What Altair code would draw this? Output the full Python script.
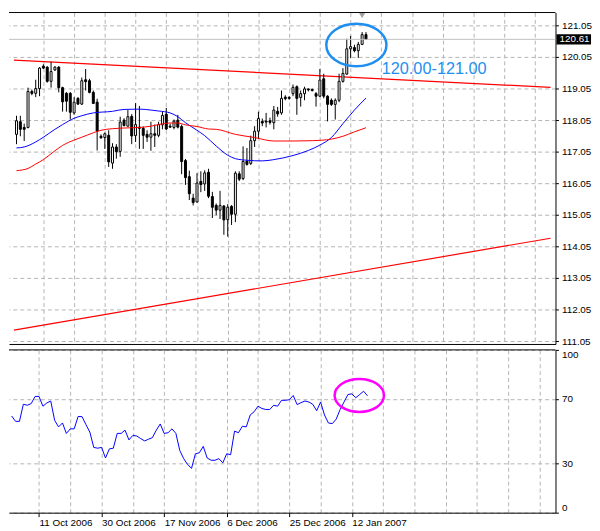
import altair as alt
import pandas as pd

# ---------------- data ----------------
bar_index = list(range(92))
opens = [117.60, 118.00, 117.82, 117.82, 118.96, 118.90, 119.05, 119.76, 119.73, 119.28,
         119.64, 119.73, 119.08, 118.90, 118.90, 118.28, 118.74, 118.56, 119.33, 119.30,
         118.93, 118.62, 117.54, 117.50, 117.57, 116.69, 117.20, 117.06, 118.05, 117.86,
         118.17, 117.56, 117.83, 117.79, 117.60, 117.51, 117.62, 117.57, 117.90, 118.24,
         117.86, 117.82, 118.05, 117.85, 116.77, 116.26, 115.58, 115.46, 116.11, 116.03,
         116.40, 115.63, 115.35, 115.20, 115.33, 114.90, 115.32, 115.07, 116.35, 116.20,
         116.75, 116.68, 117.40, 117.70, 118.01, 118.02, 118.03, 117.97, 118.33, 118.28,
         118.78, 118.77, 118.89, 119.11, 118.77, 118.89, 119.04, 119.02, 118.89, 118.81,
         119.36, 118.81, 118.68, 118.55, 118.68, 119.28, 119.51, 120.31, 120.35, 120.25,
         120.45, 120.76]
highs = [118.19, 118.19, 117.94, 119.08, 119.02, 119.33, 119.73, 119.82, 119.76, 119.90,
         119.76, 119.76, 119.11, 118.94, 118.94, 118.78, 118.78, 119.40, 119.67, 119.36,
         118.99, 118.73, 117.60, 117.66, 117.73, 117.32, 117.29, 118.16, 118.11, 118.37,
         118.24, 118.59, 118.50, 117.85, 117.73, 118.00, 117.91, 118.00, 118.31, 118.44,
         117.94, 118.07, 118.22, 117.91, 116.82, 116.45, 115.72, 116.37, 116.43, 116.46,
         116.51, 115.78, 115.41, 115.81, 115.36, 115.39, 115.36, 116.43, 116.43, 117.22,
         117.17, 117.56, 117.86, 118.32, 118.10, 118.28, 118.13, 118.50, 118.47, 118.99,
         118.84, 118.81, 119.18, 119.15, 118.99, 119.11, 119.05, 119.05, 118.94, 119.67,
         119.52, 118.84, 118.74, 118.74, 119.52, 119.70, 120.63, 120.72, 120.44, 120.53,
         120.84, 120.84]
lows = [117.29, 117.54, 117.39, 117.79, 118.84, 118.78, 118.81, 119.67, 119.24, 119.08,
        119.61, 118.93, 118.32, 118.32, 118.07, 118.22, 118.53, 118.53, 118.99, 118.90,
        118.56, 117.09, 117.46, 117.14, 116.57, 116.51, 116.83, 116.89, 117.85, 117.85,
        117.29, 117.36, 117.14, 117.14, 117.36, 117.08, 117.20, 117.51, 117.76, 117.74,
        117.80, 117.76, 117.79, 116.34, 116.00, 115.52, 115.35, 115.44, 115.77, 115.81,
        115.58, 114.95, 115.04, 114.92, 114.42, 114.36, 114.73, 114.82, 116.12, 116.15,
        116.61, 116.63, 117.20, 117.45, 117.86, 117.82, 117.91, 117.76, 118.16, 118.22,
        118.68, 118.70, 118.81, 118.22, 118.48, 118.68, 118.96, 118.96, 118.48, 118.78,
        118.74, 118.01, 118.50, 118.07, 118.62, 119.24, 119.49, 120.02, 120.20, 120.02,
        120.43, 120.59]
closes = [118.03, 117.76, 117.76, 118.96, 118.90, 119.05, 119.70, 119.70, 119.28, 119.59,
          119.73, 119.08, 118.63, 118.65, 118.30, 118.62, 118.56, 119.30, 119.27, 118.93,
          118.58, 117.70, 117.49, 117.62, 116.73, 117.20, 117.05, 117.99, 117.88, 118.16,
          117.55, 117.91, 117.79, 117.57, 117.51, 117.62, 117.57, 117.91, 118.20, 117.77,
          117.83, 118.02, 117.83, 116.74, 116.23, 115.72, 115.44, 116.06, 116.01, 116.38,
          115.64, 115.29, 115.20, 115.35, 114.89, 115.29, 115.07, 116.37, 116.18, 116.74,
          116.65, 117.40, 117.70, 118.10, 117.96, 117.99, 117.98, 118.37, 118.25, 118.74,
          118.73, 118.74, 119.09, 118.74, 118.89, 119.04, 119.01, 118.99, 118.81, 119.32,
          118.81, 118.55, 118.55, 118.68, 119.28, 119.53, 120.31, 120.38, 120.25, 120.45,
          120.76, 120.61]

ma_fast_bars = [0, 2, 5, 7, 10, 12, 15, 17, 20, 25, 28, 32, 35, 37, 40, 42, 44, 47, 49, 52,
                55, 57, 60, 64, 67, 72, 76, 79, 82, 85, 88, 91]
ma_fast_vals = [117.17, 117.20, 117.36, 117.51, 117.76, 117.91, 118.11, 118.19, 118.28, 118.33,
                118.39, 118.40, 118.37, 118.34, 118.28, 118.16, 117.97, 117.73, 117.56, 117.23,
                116.94, 116.83, 116.78, 116.76, 116.80, 116.93, 117.09, 117.26, 117.50, 117.94,
                118.37, 118.75]
ma_slow_bars = [0, 3, 5, 7, 10, 12, 15, 17, 20, 22, 25, 30, 32, 35, 37, 40, 42, 44, 47, 50,
                52, 57, 62, 67, 72, 77, 82, 85, 88, 91]
ma_slow_vals = [116.45, 116.52, 116.66, 116.80, 117.08, 117.25, 117.42, 117.51, 117.65, 117.73,
                117.78, 117.81, 117.82, 117.86, 117.91, 117.96, 117.96, 117.90, 117.85, 117.77,
                117.76, 117.60, 117.50, 117.39, 117.39, 117.40, 117.45, 117.54, 117.68, 117.81]

rsi_vals = [59.4, 56.1, 56.1, 66.6, 66.0, 67.0, 71.4, 71.4, 65.4, 67.4,
            68.6, 56.7, 52.7, 55.1, 48.7, 51.5, 51.5, 59.1, 59.0, 54.1,
            49.5, 40.1, 39.6, 40.1, 33.6, 39.2, 39.6, 48.7, 48.7, 50.7,
            44.7, 47.5, 47.1, 45.5, 44.1, 45.1, 46.1, 50.7, 54.5, 48.7,
            49.1, 51.5, 48.7, 38.2, 33.2, 29.6, 27.2, 36.2, 36.8, 40.7,
            33.6, 32.2, 32.2, 33.2, 30.6, 36.2, 35.6, 50.1, 49.1, 53.1,
            52.7, 60.0, 62.0, 65.4, 64.0, 63.4, 63.4, 66.0, 65.4, 69.0,
            69.0, 69.4, 72.0, 66.4, 67.6, 68.6, 68.0, 66.6, 62.6, 68.0,
            60.0, 55.1, 54.7, 57.5, 63.4, 68.0, 72.6, 73.0, 70.6, 72.6,
            74.6, 71.8]

x_domain = [-0.675, 139.07]
trend_upper_prices = [119.95, 119.09]
trend_lower_prices = [111.40, 114.31]
price_domain = [110.96, 121.46]
price_ticks = [111.05, 112.05, 113.05, 114.05, 115.05, 116.05, 117.05, 118.05, 119.05, 120.05, 121.05]
rsi_ticks = [0, 30, 70, 100]
grid_bars = list(range(7, 140, 8))
tick_bars = [7, 23, 39, 55, 71, 87]
tick_labels = ["11 Oct 2006", "30 Oct 2006", "17 Nov 2006", "6 Dec 2006", "25 Dec 2006", "12 Jan 2007"]
last_price = 120.61
zone_text = "120.00-121.00"
zone_center = (88.5, 120.43)
zone_text_pos = (95.1, 119.67)
rsi_mark_center = (88.9, 72.0)

# ---------------- styling ----------------
W, H1, H2 = 554, 336, 165
GRID = "#b4b4b4"
FONT = "Liberation Sans"
FS = 10
BLUE_NOTE = "#1e8ff0"

candles = pd.DataFrame({"i": bar_index, "open": opens, "high": highs,
                        "low": lows, "close": closes})
candles["dir"] = ["up" if c >= o else "down" for o, c in zip(opens, closes)]

xs = alt.Scale(domain=x_domain, nice=False, zero=False)
ys = alt.Scale(domain=price_domain, nice=False, zero=False)
rs = alt.Scale(domain=[0, 100], nice=False, zero=False)

x_axis_main = alt.Axis(values=grid_bars, labels=False, ticks=False, grid=True, gridColor=GRID,
                       gridDash=[4, 3], domain=True, domainColor="black", title=None, orient="bottom")
y_axis_main = alt.Axis(values=price_ticks, format=".2f", orient="right", grid=True, gridColor=GRID,
                       gridDash=[4, 3], domainColor="black", tickColor="black", tickSize=3,
                       labelPadding=3, title=None, labelOverlap=False)


def X(field="i"):
    return alt.X(f"{field}:Q", scale=xs, axis=x_axis_main)


def Y(field):
    return alt.Y(f"{field}:Q", scale=ys, axis=y_axis_main)


one = pd.DataFrame({"a": [0]})

trend_df = pd.DataFrame({"i": x_domain + x_domain,
                         "p": trend_upper_prices + trend_lower_prices,
                         "line": ["upper", "upper", "lower", "lower"]})
trend = alt.Chart(trend_df).mark_line(color="#ff0000", strokeWidth=1.2).encode(
    x=X(), y=Y("p"), detail="line:N")

wicks = alt.Chart(candles).mark_rule(color="black", strokeWidth=1).encode(
    x=X(), y=Y("low"), y2="high")
bodies = alt.Chart(candles).mark_bar(size=2, stroke="black", strokeWidth=1).encode(
    x=X(), y=Y("open"), y2="close",
    fill=alt.Fill("dir:N", scale=alt.Scale(domain=["up", "down"], range=["white", "black"]), legend=None))

fast_df = pd.DataFrame({"i": ma_fast_bars, "v": ma_fast_vals})
slow_df = pd.DataFrame({"i": ma_slow_bars, "v": ma_slow_vals})
ma_fast = alt.Chart(fast_df).mark_line(color="#0000ff", strokeWidth=1, interpolate="monotone").encode(
    x=X(), y=Y("v"))
ma_slow = alt.Chart(slow_df).mark_line(color="#ff0000", strokeWidth=1, interpolate="monotone").encode(
    x=X(), y=Y("v"))

bid_line = alt.Chart(one).mark_rule(color="#c0c0c0", strokeWidth=1).encode(
    y=alt.Y(datum=last_price, scale=ys, axis=y_axis_main), x=alt.value(0), x2=alt.value(W))

box = alt.Chart(one).mark_rect(color="black").encode(
    x=alt.value(W + 1), x2=alt.value(W + 36),
    y=alt.Y(datum=last_price + 0.16, scale=ys, axis=y_axis_main), y2=alt.datum(last_price - 0.16))
box_text = alt.Chart(pd.DataFrame({"t": [f"{last_price:.2f}"]})).mark_text(
    color="white", align="left", baseline="middle", font=FONT, fontSize=FS).encode(
    x=alt.value(W + 4), y=alt.Y(datum=last_price, scale=ys, axis=y_axis_main), text="t:N")

ellipse_path = "M-1,0A1,0.707,0,1,1,1,0A1,0.707,0,1,1,-1,0Z"
zone_df = pd.DataFrame({"i": [zone_center[0]], "p": [zone_center[1]]})
zone = alt.Chart(zone_df).mark_point(shape=ellipse_path, size=3721, filled=False,
                                     color=BLUE_NOTE, strokeWidth=2.5, opacity=1).encode(
    x=X(), y=Y("p"))
zone_lbl_df = pd.DataFrame({"i": [zone_text_pos[0]], "p": [zone_text_pos[1]], "t": [zone_text]})
zone_lbl = alt.Chart(zone_lbl_df).mark_text(align="left", baseline="middle", font=FONT,
                                            fontSize=16.5, color=BLUE_NOTE).encode(
    x=X(), y=Y("p"), text="t:N")

shift_mark = alt.Chart(pd.DataFrame({"i": [90]})).mark_point(
    shape="triangle-down", filled=True, color="#a0a0a0", size=40, opacity=1).encode(
    x=X(), y=alt.value(3))

top_border = alt.Chart(one).mark_rule(color="black", strokeWidth=1).encode(
    x=alt.value(0), x2=alt.value(W), y=alt.value(0))

main = alt.layer(trend, wicks, bodies, ma_fast, ma_slow, bid_line, box, box_text,
                 zone, zone_lbl, shift_mark, top_border).properties(width=W, height=H1)

# ---------------- RSI panel ----------------
label_expr = " : ".join(f"datum.value == {b} ? '{l}'" for b, l in zip(tick_bars, tick_labels)) + " : ''"
tick_test = "indexof([" + ",".join(str(b) for b in tick_bars) + "], datum.value) >= 0"

x_axis_rsi = alt.Axis(values=grid_bars, labelExpr=label_expr,
                      tickColor={"condition": {"test": tick_test, "value": "black"}, "value": "transparent"},
                      tickSize=4, labelAlign="left", labelPadding=1, labelFlush=False,
                      grid=True, gridColor=GRID, gridDash=[4, 3], domainColor="black",
                      title=None, labelOverlap=False, orient="bottom")
y_axis_rsi = alt.Axis(values=rsi_ticks, orient="right", grid=True, gridColor=GRID, gridDash=[4, 3],
                      domainColor="black", tickColor="black", tickSize=3, labelPadding=3,
                      labelFlush=True, labelOverlap=False, title=None)

rsi_df = pd.DataFrame({"i": bar_index, "v": rsi_vals})
rsi_line = alt.Chart(rsi_df).mark_line(color="#0000ff", strokeWidth=1).encode(
    x=alt.X("i:Q", scale=xs, axis=x_axis_rsi), y=alt.Y("v:Q", scale=rs, axis=y_axis_rsi))

rsi_ellipse_path = "M-1,0A1,0.667,0,1,1,1,0A1,0.667,0,1,1,-1,0Z"
rsi_mark_df = pd.DataFrame({"i": [rsi_mark_center[0]], "v": [rsi_mark_center[1]]})
rsi_mark = alt.Chart(rsi_mark_df).mark_point(shape=rsi_ellipse_path, size=2500, filled=False,
                                             color="#ff00ff", strokeWidth=2.5, opacity=1).encode(
    x=alt.X("i:Q", scale=xs, axis=x_axis_rsi), y=alt.Y("v:Q", scale=rs, axis=y_axis_rsi))

rsi_top = alt.Chart(one).mark_rule(color="black", strokeWidth=1).encode(
    x=alt.value(0), x2=alt.value(W), y=alt.value(0))

rsi = alt.layer(rsi_line, rsi_mark, rsi_top).properties(width=W, height=H2)

chart = alt.vconcat(main, rsi, spacing=2).properties(
    padding={"left": 0, "top": 0, "right": 0, "bottom": 0}
).configure_view(stroke=None).configure_axis(
    labelFont=FONT, labelFontSize=FS, labelColor="black"
)

chart.save("out.html", embed_options={"renderer": "svg", "actions": False})
